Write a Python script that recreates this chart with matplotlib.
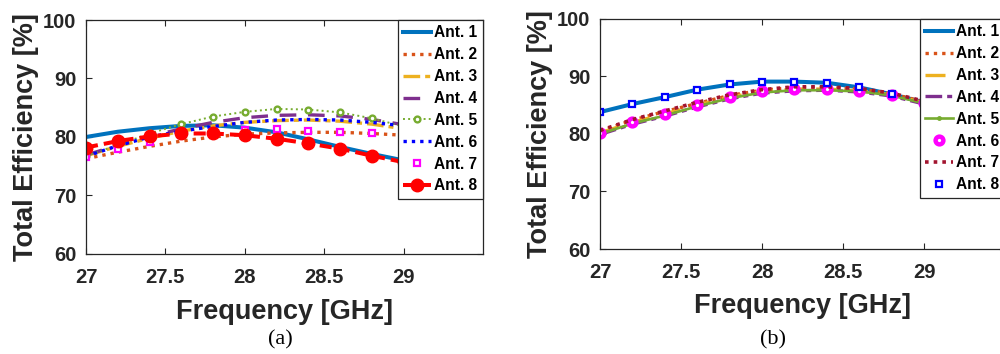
import matplotlib
matplotlib.use("Agg")
import matplotlib.pyplot as plt

plt.rcParams['font.family'] = ['Liberation Sans', 'DejaVu Sans']

# Frequency sweep points [GHz]
freq = [27.0, 27.2, 27.4, 27.6, 27.8, 28.0, 28.2, 28.4, 28.6, 28.8, 29.0, 29.2]

# (a) total efficiency per antenna [%]
a_ant1 = [80.0, 80.9, 81.5, 81.9, 82.0, 81.6, 80.8, 79.6, 78.3, 77.1, 76.0, 74.8]
a_ant2 = [76.3, 77.4, 78.4, 79.3, 80.0, 80.5, 80.7, 80.8, 80.8, 80.6, 80.3, 79.9]
a_ant3 = [76.8, 78.4, 79.8, 81.0, 81.9, 82.5, 82.8, 82.9, 82.7, 82.2, 81.4, 80.5]
a_ant4 = [76.9, 78.6, 80.1, 81.4, 82.5, 83.3, 83.7, 83.8, 83.6, 83.0, 82.1, 81.0]
a_ant5 = [76.8, 78.6, 80.6, 82.2, 83.5, 84.3, 84.8, 84.7, 84.2, 83.2, 81.8, 80.2]
a_ant6 = [76.7, 78.5, 80.0, 81.0, 81.8, 82.5, 82.9, 83.0, 82.9, 82.5, 81.9, 81.0]
a_ant7 = [76.6, 77.9, 79.2, 80.3, 80.9, 81.2, 81.3, 81.1, 80.9, 80.6, 80.2, 79.7]
a_ant8 = [78.2, 79.3, 80.1, 80.6, 80.6, 80.3, 79.7, 78.9, 78.0, 76.8, 75.7, 74.5]

# (b) total efficiency per antenna [%]
b_ant1 = [83.8, 85.2, 86.4, 87.7, 88.6, 89.1, 89.1, 88.9, 88.1, 86.9, 85.5, 84.0]
b_ant2 = [80.5, 82.4, 83.9, 85.3, 86.7, 87.6, 88.1, 88.1, 87.8, 87.0, 85.6, 84.2]
b_ant3 = [80.2, 82.0, 83.5, 85.0, 86.4, 87.4, 87.8, 87.8, 87.5, 86.8, 85.4, 84.0]
b_ant4 = [79.9, 81.7, 83.1, 84.7, 86.1, 87.1, 87.5, 87.6, 87.3, 86.6, 85.2, 83.8]
b_ant5 = [80.0, 81.8, 83.2, 84.8, 86.2, 87.2, 87.6, 87.6, 87.4, 86.7, 85.3, 83.9]
b_ant6 = [80.2, 82.0, 83.5, 85.0, 86.4, 87.4, 87.8, 87.8, 87.5, 86.8, 85.4, 84.0]
b_ant7 = [80.6, 82.5, 84.0, 85.5, 86.8, 87.7, 88.2, 88.2, 87.9, 87.1, 85.7, 84.3]
b_ant8 = [83.8, 85.2, 86.4, 87.7, 88.6, 89.1, 89.1, 88.9, 88.1, 86.9, 85.5, 84.0]

labels = ['Ant. 1', 'Ant. 2', 'Ant. 3', 'Ant. 4', 'Ant. 5', 'Ant. 6', 'Ant. 7', 'Ant. 8']
xticks = [27, 27.5, 28, 28.5, 29]
xticklabels = ['27', '27.5', '28', '28.5', '29']
yticks = [60, 70, 80, 90, 100]

TXT = '#262626'
fig = plt.figure(figsize=(10.0, 3.54), dpi=100)

ax_a = fig.add_axes([0.086, 0.2825, 0.397, 0.661])
ax_b = fig.add_axes([0.600, 0.2966, 0.405, 0.650])

# panel (a)
ax_a.plot(freq, a_ant1, color='#0072BD', lw=2.9, ls='-')
ax_a.plot(freq, a_ant2, color='#D95319', lw=2.4, ls=(0, (1, 1.5)))
ax_a.plot(freq, a_ant3, color='#EDB120', lw=2.4, ls=(0, (5, 1.5, 1.5, 1.5)))
ax_a.plot(freq, a_ant4, color='#7E2F8E', lw=2.4, ls=(0, (5, 3.5)))
ax_a.plot(freq, a_ant5, color='#77AC30', lw=1.4, ls=':', marker='o', ms=4.2,
          mfc='white', mec='#77AC30', mew=1.7)
ax_a.plot(freq, a_ant6, color='#0000FF', lw=2.4, ls=(0, (1, 1.5)))
ax_a.plot(freq, a_ant7, color='#FF00FF', lw=0, ls='none', marker='s', ms=5,
          mfc='white', mec='#FF00FF', mew=1.6)
ax_a.plot(freq, a_ant8, color='#FF0000', lw=2.9, ls=(0, (3, 1.5)), marker='o',
          ms=9, mfc='#FF0000', mec='#FF0000')

# panel (b)
ax_b.plot(freq, b_ant1, color='#0072BD', lw=2.9, ls='-')
ax_b.plot(freq, b_ant2, color='#D95319', lw=2.4, ls=(0, (1, 1.5)))
ax_b.plot(freq, b_ant3, color='#EDB120', lw=2.4, ls=(0, (6, 3.5)))
ax_b.plot(freq, b_ant4, color='#7E2F8E', lw=2.4, ls=(0, (5, 1.5, 1.5, 1.5)))
ax_b.plot(freq, b_ant5, color='#77AC30', lw=1.9, ls='-', marker='.', ms=5)
ax_b.plot(freq, b_ant6, color='#FF00FF', lw=0, ls='none', marker='o', ms=5.6,
          mfc='white', mec='#FF00FF', mew=3.2)
ax_b.plot(freq, b_ant7, color='#A2142F', lw=2.6, ls=(0, (1, 1.4)))
ax_b.plot(freq, b_ant8, color='#0000FF', lw=0, ls='none', marker='s', ms=5,
          mfc='white', mec='#0000FF', mew=1.6)

for ax in (ax_a, ax_b):
    ax.set_xlim(27, 29.5)
    ax.set_ylim(60, 100)
    ax.set_xticks(xticks)
    ax.set_xticklabels(xticklabels)
    ax.set_yticks(yticks)
    ax.tick_params(direction='in', top=True, right=True, length=4, width=0.8,
                   colors=TXT, labelsize=14.5)
    ax.tick_params(axis='x', pad=10)
    ax.tick_params(axis='y', pad=7)
    for lbl in ax.get_xticklabels() + ax.get_yticklabels():
        lbl.set_fontweight('bold')
        lbl.set_color(TXT)
    for sp in ax.spines.values():
        sp.set_color(TXT)
        sp.set_linewidth(0.9)
    ax.set_ylabel('Total Efficiency [%]', fontsize=19.5, fontweight='bold', color=TXT,
                  labelpad=3)
    leg = ax.legend(labels, loc='upper right', bbox_to_anchor=(1.0, 1.0),
                    borderaxespad=0, prop={'weight': 'bold', 'size': 11.2},
                    handlelength=1.8, handletextpad=0.2, labelspacing=0.44,
                    borderpad=0.35, fancybox=False, framealpha=1, edgecolor=TXT)
    leg.get_frame().set_linewidth(0.9)
    for t in leg.get_texts():
        t.set_color('black')

ax_a.set_xlabel('Frequency [GHz]', fontsize=19.5, fontweight='bold', color=TXT,
                labelpad=9)
ax_b.set_xlabel('Frequency [GHz]', fontsize=19.5, fontweight='bold', color=TXT,
                labelpad=8)

fig.text(0.280, 0.040, '(a)', fontsize=16, family=['Liberation Serif', 'DejaVu Serif'],
         ha='center', va='center', color='black')
fig.text(0.773, 0.040, '(b)', fontsize=16, family=['Liberation Serif', 'DejaVu Serif'],
         ha='center', va='center', color='black')

fig.savefig('out.png', dpi=100)
